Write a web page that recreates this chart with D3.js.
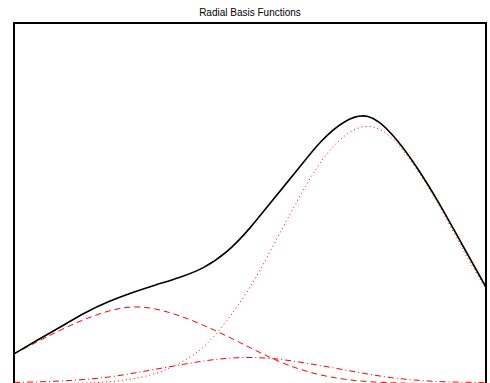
<!DOCTYPE html>
<html>
<head>
<meta charset="utf-8">
<script src="https://cdn.jsdelivr.net/npm/d3@7"></script>
<style>
  html, body { margin: 0; padding: 0; background: #fff; }
  svg { display: block; }
</style>
</head>
<body>
<svg id="chart" width="490" height="383"></svg>
<script>
// ---- data ----
const title = "Radial Basis Functions";
const xs = [0, 0.5, 1, 1.5, 2, 2.5, 3, 3.5, 4, 4.5, 5, 5.5, 6, 6.5, 7, 7.5, 8, 8.5, 9, 9.5, 10];
const sumValues = [0.100, 0.146, 0.191, 0.236, 0.273, 0.303, 0.329, 0.354, 0.386, 0.439, 0.519,
                   0.615, 0.711, 0.805, 0.871, 0.889, 0.831, 0.728, 0.602, 0.462, 0.322];
const basis1 = [0.100, 0.141, 0.180, 0.215, 0.242, 0.256, 0.249, 0.227, 0.196, 0.160, 0.121,
                0.083, 0.052, 0.030, 0.016, 0.008, 0.004, 0.002, 0.001, 0.001, 0.000];
const basis2 = [0.005, 0.007, 0.010, 0.015, 0.023, 0.035, 0.049, 0.063, 0.076, 0.085, 0.088,
                0.084, 0.074, 0.061, 0.047, 0.033, 0.021, 0.013, 0.008, 0.006, 0.004];
const basis3 = [0.000, 0.000, 0.001, 0.003, 0.007, 0.017, 0.035, 0.069, 0.121, 0.209, 0.322,
                0.462, 0.608, 0.738, 0.824, 0.856, 0.818, 0.721, 0.595, 0.449, 0.316];

// ---- layout ----
const svg = d3.select("#chart");
const padL = 14, padR = 486, padT = 23, padB = 390;

const x = d3.scaleLinear().domain([0, 10]).range([padL, padR]);
const y = d3.scaleLinear().domain([-0.02, 1.2]).range([padB, padT]);

svg.append("defs").append("clipPath").attr("id", "clip")
  .append("rect").attr("x", padL).attr("y", padT)
  .attr("width", padR - padL).attr("height", padB - padT);

const line = d3.line()
  .x((d, i) => x(xs[i]))
  .y(d => y(d))
  .curve(d3.curveNatural);

const g = svg.append("g").attr("clip-path", "url(#clip)");

const series = [
  { values: basis1, color: "#ff0000", width: 1, dash: "6,4" },
  { values: basis2, color: "#ff0000", width: 1, dash: "6,3,1,3" },
  { values: basis3, color: "#ff0000", width: 1, dash: "1,3" },
  { values: sumValues, color: "#000000", width: 1.6, dash: null }
];

series.forEach(s => {
  g.append("path")
    .datum(s.values)
    .attr("d", line)
    .attr("fill", "none")
    .attr("stroke", s.color)
    .attr("stroke-width", s.width)
    .attr("stroke-dasharray", s.dash);
});

// axes box
svg.append("rect")
  .attr("x", padL).attr("y", padT)
  .attr("width", padR - padL).attr("height", padB - padT)
  .attr("fill", "none").attr("stroke", "#000").attr("stroke-width", 2);

// title
svg.append("text")
  .attr("x", (padL + padR) / 2).attr("y", 16)
  .attr("text-anchor", "middle")
  .attr("font-family", "Liberation Sans, Arial, sans-serif")
  .attr("font-size", 10)
  .attr("fill", "#000")
  .text(title);
</script>
</body>
</html>
